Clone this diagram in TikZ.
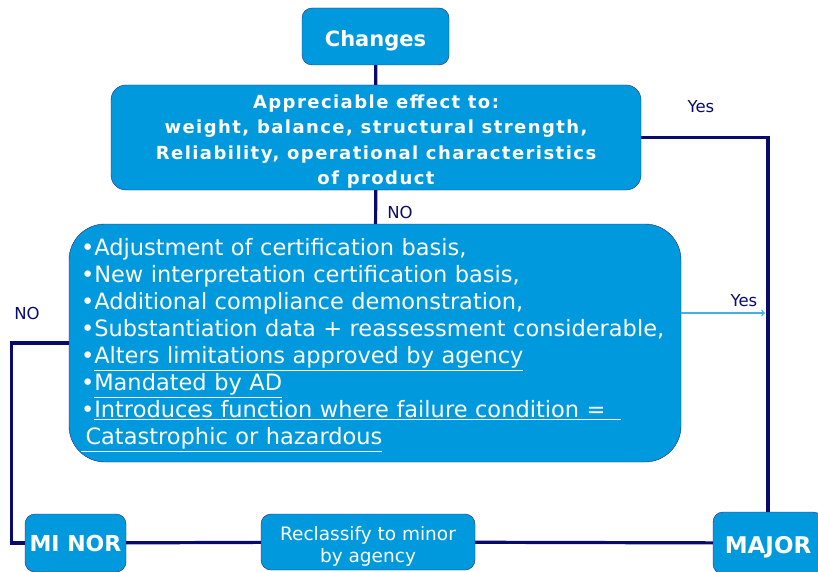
\documentclass[tikz,border=0pt]{standalone}
\usepackage{fontspec}
\setmainfont{DejaVu Sans}
\newfontfamily\widefont[LetterSpace=8]{DejaVu Sans}
\usetikzlibrary{arrows}
\definecolor{boxBlue}{RGB}{0,153,221}
\definecolor{lineNavy}{RGB}{10,10,110}
\definecolor{edgeNavy}{RGB}{40,40,130}
\definecolor{yesBlue}{RGB}{70,175,230}

\begin{document}
\begin{tikzpicture}[x=1pt,y=-1pt,
  box/.style={draw=edgeNavy, fill=boxBlue, text=white, rounded corners=10pt, inner sep=0pt, align=center},
  link/.style={draw=lineNavy, line width=3.2pt},
  answer/.style={text=lineNavy, font=\fontsize{16.5}{18}\selectfont, inner sep=0pt}]

\useasboundingbox (0,0) rectangle (818,572);

% the boxes
\node[box, minimum width=147, minimum height=57, font=\bfseries\fontsize{21}{24}\selectfont] (changes) at (375.5,36.5) {\rule{0pt}{24pt}Changes};
\node[box, rounded corners=15pt, minimum width=530, minimum height=105, font=\widefont\bfseries\fontsize{18}{25.5}\selectfont] (effect) at (376,137.5)
  {\rule{0pt}{22pt}Appreciable effect to:\\ weight, balance, structural strength,\\ Reliability, operational characteristics\\ of product};
\node[box, rounded corners=36pt, minimum width=612, minimum height=238, align=left, text width=588, font=\fontsize{22.5}{27}\selectfont] (rules) at (375,343)
  {\rule{0pt}{21pt}•Adjustment of certification basis,\\
   •New interpretation certification basis,\\
   •Additional compliance demonstration,\\
   •Substantiation data + reassessment considerable,\\
   •\underline{Alters limitations approved by agency}\\
   •\underline{Mandated by AD}\\
   •\underline{Introduces function where failure condition =\hspace{0.7em}}\\
   \underline{\hspace{0.2em}Catastrophic or hazardous}};
\node[box, minimum width=101, minimum height=58, font=\bfseries\fontsize{22}{26}\selectfont] (minor) at (75.5,543) {MI NOR};
\node[box, minimum width=214, minimum height=56, font=\fontsize{18.5}{22}\selectfont] (reclass) at (368,542) {\rule{0pt}{22pt}Reclassify to minor\\ by agency};
\node[box, minimum width=110, minimum height=62, font=\bfseries\fontsize{23}{26}\selectfont] (major) at (768,543) {\rule{0pt}{25pt}MAJOR};

% the connectors
\coordinate (yesEnd) at (765,313);
\draw[link] (changes) -- (effect);
\draw[link] (effect) -- (rules);
\draw[link] (effect.east) -| (major.north);
\draw[link] (rules.west) -- ++(-57,0) |- (minor.west);
\draw[link] (minor) -- (reclass);
\draw[link] (reclass) -- (major);
\draw[yesBlue, line width=1.4pt, ->, >=to] (rules.east |- yesEnd) -- (yesEnd);

% the answers
\node[answer] (yesTop) at (701,107) {Yes};
\node[answer] (noMid) at (400,212) {NO};
\node[answer] (yesSide) at (744,301) {Yes};
\node[answer] (noLeft) at (27,313) {NO};

\end{tikzpicture}
\end{document}
